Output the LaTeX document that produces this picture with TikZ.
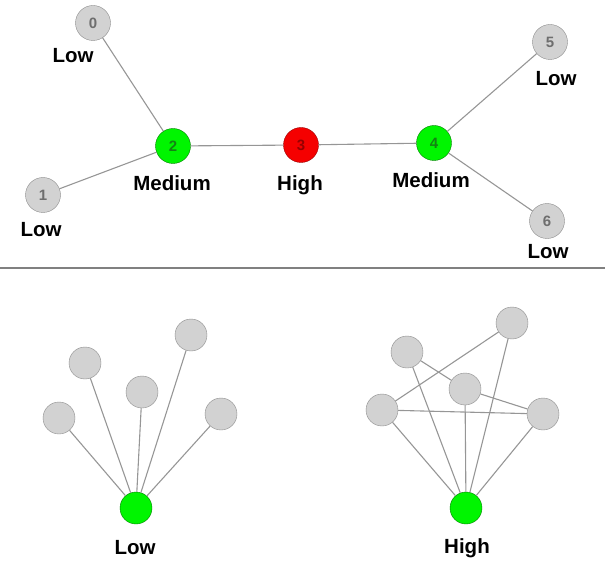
\documentclass[tikz,border=0pt]{standalone}
\usepackage{fontspec}
\setmainfont{Liberation Sans}
\definecolor{nodegray}{RGB}{210,210,210}
\definecolor{nodeline}{RGB}{140,140,140}
\definecolor{edgegray}{RGB}{150,150,150}
\definecolor{numgray}{RGB}{110,110,110}
\definecolor{brightgreen}{RGB}{0,245,0}
\definecolor{darkgreen}{RGB}{20,130,20}
\definecolor{brightred}{RGB}{245,0,0}
\definecolor{darkred}{RGB}{150,0,0}
\begin{document}
\begin{tikzpicture}[x=1pt,y=-1pt,
    vertex/.style={shape=circle,draw=nodeline,fill=nodegray,minimum size=35pt,inner sep=0pt,
        font=\fontsize{15}{15}\selectfont\bfseries,text=numgray},
    medium/.style={fill=brightgreen,draw=green!50!black,text=darkgreen},
    high/.style={fill=brightred,draw=red!60!black,text=darkred},
    leaf/.style={shape=circle,draw=nodeline,fill=nodegray,minimum size=32pt,inner sep=0pt},
    hub/.style={leaf,fill=brightgreen,draw=green!50!black},
    level/.style={anchor=base,inner sep=0pt,font=\fontsize{20.5}{20.5}\selectfont\bfseries},
    edge/.style={draw=edgegray,line width=1.1pt}]
    \useasboundingbox (0,0) rectangle (612,569);

    % top graph
    \foreach \n/\x/\y in {0/93/23, 1/43/195, 5/550/42, 6/547/221}
        \node[vertex] (n\n) at (\x,\y) {\n};
    \node[vertex,medium] (n2) at (173,146) {2};
    \node[vertex,high] (n3) at (301,145) {3};
    \node[vertex,medium] (n4) at (434,143) {4};
    \foreach \a/\b in {0/2, 1/2, 2/3, 3/4, 4/5, 4/6}
        \draw[edge] (n\a) -- (n\b);

    \node[level] (l0) at (73,63) {Low};
    \node[level] (l1) at (41,236) {Low};
    \node[level] (l2) at (172,191) {Medium};
    \node[level] (l3) at (300,191) {High};
    \node[level] (l4) at (431,188) {Medium};
    \node[level] (l5) at (556,86) {Low};
    \node[level] (l6) at (548,258) {Low};

    % separator
    \coordinate (sepL) at (0,268);
    \coordinate (sepR) at (605,268);
    \draw[draw=gray,line width=2pt] (sepL) -- (sepR);

    % bottom left: low
    \foreach \i/\x/\y in {1/59/418, 2/85/363, 3/142/392, 4/191/335, 5/221/414}
        \node[leaf] (p\i) at (\x,\y) {};
    \node[hub] (hubL) at (136,508) {};
    \foreach \i in {1,...,5}
        \draw[edge] (hubL) -- (p\i);
    \node[level] (lowL) at (135,554) {Low};

    % bottom right: high
    \foreach \i/\x/\y in {1/382/410, 2/407/352, 3/465/389, 4/512/323, 5/543/414}
        \node[leaf] (q\i) at (\x,\y) {};
    \node[hub] (hubR) at (466,508) {};
    \foreach \i in {1,...,5}
        \draw[edge] (hubR) -- (q\i);
    \foreach \a/\b in {1/4, 1/5, 2/3, 3/5}
        \draw[edge] (q\a) -- (q\b);
    \node[level] (highR) at (467,553) {High};
\end{tikzpicture}
\end{document}
